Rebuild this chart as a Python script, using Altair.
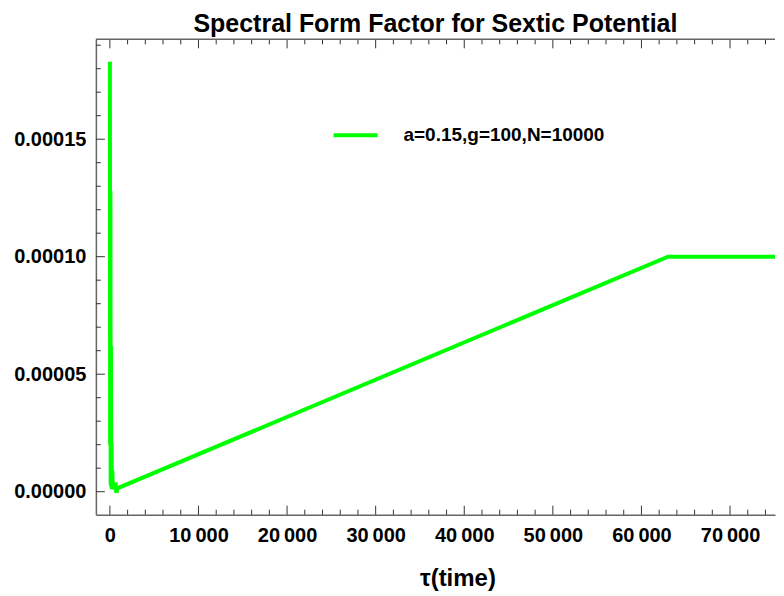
import altair as alt
import pandas as pd

# ---- data ----
tau = [0, 30, 60, 90, 120, 150, 190, 230, 280, 330, 390, 450, 520, 600, 680, 760, 850, 950, 63000, 75900]
sff = [1.83e-4, 2.0e-5, 1.28e-4, 3.0e-6, 6.2e-5, 2.0e-6, 2.1e-5, 1.0e-6, 9.0e-6, 1.5e-6,
       4.0e-6, 1.2e-6, 2.5e-6, 1.5e-6, 2.0e-6, -0.5e-6, 1.6e-6, 1.6e-6, 1.0e-4, 1.0e-4]
series_name = "a=0.15,g=100,N=10000"

y_major = [0.0, 0.00005, 0.00010, 0.00015]
y_minor = [0.00001, 0.00002, 0.00003, 0.00004, 0.00006, 0.00007, 0.00008, 0.00009,
           0.00011, 0.00012, 0.00013, 0.00014, 0.00016, 0.00017, 0.00018, 0.00019]
x_major = [0, 10000, 20000, 30000, 40000, 50000, 60000, 70000]
x_minor = [2000, 4000, 6000, 8000, 12000, 14000, 16000, 18000, 22000, 24000, 26000, 28000,
           32000, 34000, 36000, 38000, 42000, 44000, 46000, 48000, 52000, 54000, 56000, 58000,
           62000, 64000, 66000, 68000, 72000, 74000]

W, H = 680, 476
FONT = "Liberation Sans"
FRAME = "#666666"
TICK = "#333333"

xscale = alt.Scale(domain=[-1580, 75075], nice=False, zero=False)
yscale = alt.Scale(domain=[-0.0000098, 0.0001925], nice=False, zero=False)

df = pd.DataFrame({"tau": tau, "sff": sff, "series": [series_name] * len(tau)})

line = alt.Chart(df).mark_line(strokeWidth=4, clip=True).encode(
    x=alt.X("tau:Q", scale=xscale,
            axis=alt.Axis(values=x_major, ticks=False, grid=False, domain=True,
                          domainColor=FRAME, domainWidth=1.5,
                          labelExpr="replace(format(datum.value, ','), ',', '\u2009')",
                          labelFont=FONT, labelFontSize=20, labelFontWeight="bold",
                          labelColor="black", labelPadding=11,
                          title="\u03c4(time)", titleFont=FONT, titleFontSize=24,
                          titleFontWeight="bold", titleColor="black",
                          titleX=362, titleY=64, titleBaseline="middle", titleAlign="center")),
    y=alt.Y("sff:Q", scale=yscale,
            axis=alt.Axis(values=y_major, format=".5f", ticks=False, grid=False, domain=True,
                          domainColor=FRAME, domainWidth=1.5,
                          labelFont=FONT, labelFontSize=20, labelFontWeight="bold",
                          labelColor="black", labelPadding=10, title=None,
                          minExtent=88, maxExtent=88)),
    color=alt.Color("series:N", scale=alt.Scale(range=["#00ff00"]),
                    legend=alt.Legend(orient="none", legendX=236, legendY=72, title=None,
                                      symbolType="stroke", symbolSize=1936, symbolStrokeWidth=4,
                                      labelFont=FONT, labelFontSize=19, labelFontWeight="bold",
                                      labelColor="black", labelOffset=24, labelLimit=400,
                                      padding=0)),
)

def vticks(vals, length):
    d = pd.DataFrame({"v": vals})
    return alt.Chart(d).mark_rule(color=TICK, strokeWidth=1).encode(
        y=alt.Y("v:Q", scale=yscale), x=alt.value(0), x2=alt.value(length))

def hticks_bottom(vals, length):
    d = pd.DataFrame({"v": vals})
    return alt.Chart(d).mark_rule(color=TICK, strokeWidth=1).encode(
        x=alt.X("v:Q", scale=xscale), y=alt.value(H), y2=alt.value(H - length))

def hticks_top(vals, length):
    d = pd.DataFrame({"v": vals})
    return alt.Chart(d).mark_rule(color=TICK, strokeWidth=1).encode(
        x=alt.X("v:Q", scale=xscale), y=alt.value(0), y2=alt.value(length))

top_frame = alt.Chart(pd.DataFrame({"k": [0]})).mark_rule(color=FRAME, strokeWidth=1.5).encode(
    x=alt.value(0), x2=alt.value(W), y=alt.value(0))

chart = alt.layer(
    vticks(y_major, 9), vticks(y_minor, 5),
    hticks_bottom(x_major, 9), hticks_bottom(x_minor, 5),
    hticks_top(x_major, 9), hticks_top(x_minor, 5),
    top_frame, line,
).properties(
    width=W, height=H,
    padding={"top": 3, "left": 0, "right": 0, "bottom": 0},
    title=alt.TitleParams("Spectral Form Factor for Sextic Potential", font=FONT, fontSize=25,
                          fontWeight="bold", color="black", anchor="middle", offset=2),
).configure_view(stroke=None)

chart.save("out.html", embed_options={"renderer": "svg", "actions": False})
